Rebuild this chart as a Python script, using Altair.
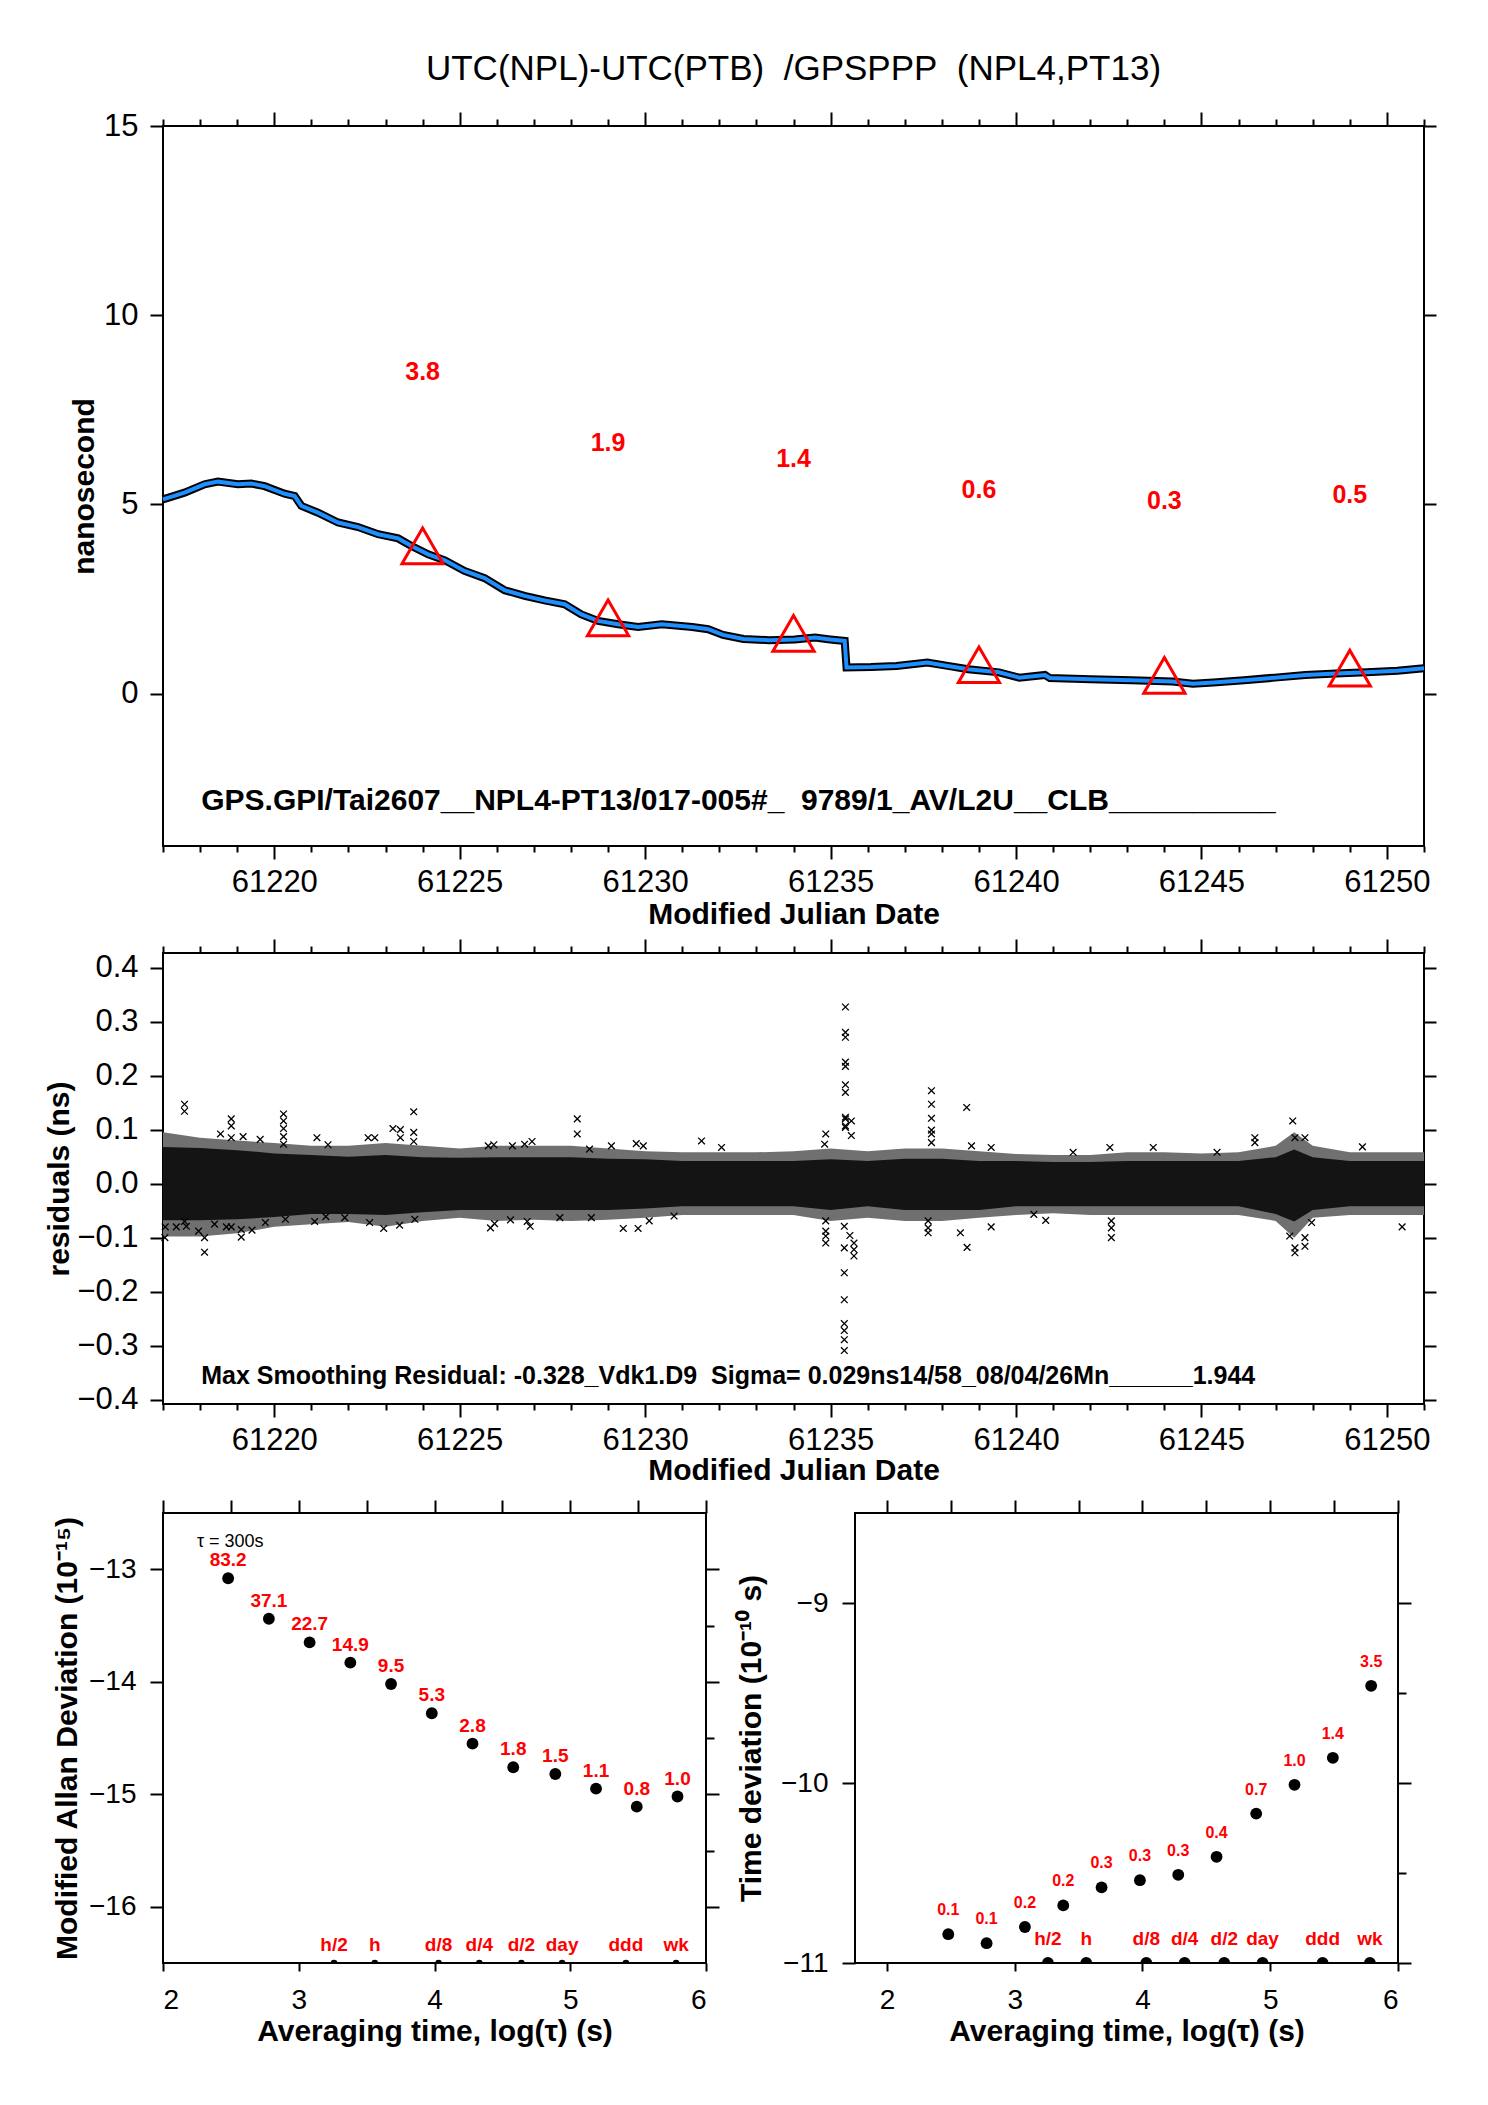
import altair as alt
import pandas as pd

FONT = "Liberation Sans"
NB = "\u00a0"
RED = "#ff0000"
BLUE = "#1e8fff"

# ---------------- top panel data ----------------
curve_mjd = [61217.0, 61217.58, 61218.12, 61218.48, 61219.02, 61219.38, 61219.74, 61220.28,
             61220.55, 61220.73, 61221.18, 61221.72, 61222.26, 61222.8, 61223.34, 61223.7,
             61224.15, 61224.6, 61225.13, 61225.67, 61226.21, 61226.75, 61227.29, 61227.83,
             61228.28, 61228.73, 61229.27, 61229.81, 61230.45, 61231.27, 61231.7, 61232.1,
             61232.65, 61233.34, 61234.03, 61234.58, 61234.99, 61235.38, 61235.43, 61236.09,
             61236.78, 61237.61, 61238.16, 61238.71, 61239.54, 61240.09, 61240.78, 61240.91,
             61242.01, 61243.12, 61244.22, 61244.77, 61245.32, 61246.15, 61246.98, 61247.8,
             61248.63, 61249.45, 61250.28, 61251.0]
curve_ns = [5.13, 5.31, 5.53, 5.6, 5.53, 5.55, 5.48, 5.28,
            5.22, 4.96, 4.78, 4.52, 4.4, 4.21, 4.1, 3.9,
            3.68, 3.52, 3.24, 3.05, 2.73, 2.58, 2.46, 2.36,
            2.09, 1.92, 1.83, 1.76, 1.83, 1.76, 1.70, 1.55,
            1.44, 1.41, 1.43, 1.48, 1.43, 1.39, 0.69, 0.70,
            0.73, 0.82, 0.73, 0.64, 0.56, 0.42, 0.49, 0.41,
            0.38, 0.35, 0.32, 0.26, 0.29, 0.35, 0.42, 0.49,
            0.53, 0.56, 0.60, 0.67]

tri_mjd = [61224, 61229, 61234, 61239, 61244, 61249]
tri_ns = [3.9, 2.0, 1.59, 0.76, 0.48, 0.67]
tri_text = ["3.8", "1.9", "1.4", "0.6", "0.3", "0.5"]
tri_text_y = [8.51, 6.62, 6.19, 5.38, 5.08, 5.26]

gps_note = ("GPS.GPI/Tai2607__NPL4-PT13/017-005#_" + NB + NB +
            "9789/1_AV/L2U__CLB__________")
gps_note_pos = [61218.03, -2.84]

# ---------------- residual panel data ----------------
band_mjd = [61217, 61218, 61219, 61220, 61221, 61222, 61223, 61224, 61225, 61226, 61227,
            61228, 61229, 61230, 61231, 61232, 61233, 61234, 61235, 61236, 61237, 61238,
            61239, 61240, 61241, 61242, 61243, 61244, 61245, 61246, 61247, 61247.5, 61248,
            61249, 61250, 61251]
band_hi = [0.095, 0.085, 0.08, 0.075, 0.07, 0.07, 0.075, 0.07, 0.065, 0.07, 0.07,
           0.07, 0.065, 0.06, 0.058, 0.058, 0.058, 0.06, 0.065, 0.06, 0.065, 0.065,
           0.06, 0.055, 0.053, 0.053, 0.058, 0.058, 0.056, 0.058, 0.07, 0.095, 0.07,
           0.058, 0.058, 0.058]
band_core_hi = [0.068, 0.066, 0.062, 0.056, 0.053, 0.05, 0.053, 0.049, 0.048, 0.049, 0.049,
                0.049, 0.046, 0.045, 0.042, 0.042, 0.042, 0.042, 0.045, 0.042, 0.046, 0.046,
                0.042, 0.042, 0.04, 0.04, 0.042, 0.042, 0.042, 0.042, 0.049, 0.063, 0.049,
                0.042, 0.042, 0.042]
band_core_lo = [-0.068, -0.068, -0.066, -0.062, -0.056, -0.056, -0.058, -0.053, -0.049, -0.049, -0.049,
                -0.049, -0.049, -0.046, -0.042, -0.042, -0.042, -0.042, -0.049, -0.042, -0.049, -0.049,
                -0.049, -0.042, -0.042, -0.042, -0.042, -0.042, -0.042, -0.042, -0.056, -0.07, -0.049,
                -0.042, -0.042, -0.042]
band_lo = [-0.098, -0.098, -0.092, -0.08, -0.075, -0.071, -0.08, -0.069, -0.063, -0.069, -0.067,
           -0.069, -0.067, -0.063, -0.058, -0.058, -0.058, -0.058, -0.069, -0.063, -0.069, -0.069,
           -0.063, -0.058, -0.055, -0.058, -0.058, -0.058, -0.058, -0.058, -0.069, -0.1, -0.063,
           -0.058, -0.058, -0.058]

out_mjd = [61217.58, 61217.58, 61218.84, 61218.84, 61218.84, 61218.55, 61219.16,
           61220.25, 61220.25, 61220.25, 61220.25, 61220.25, 61219.62, 61221.15, 61221.45,
           61222.53, 61222.71, 61223.2, 61223.4, 61223.4, 61223.76, 61223.76, 61223.76,
           61228.17, 61228.17, 61225.77, 61225.92, 61226.42, 61226.75, 61226.95, 61228.5,
           61218.12, 61218.12, 61217.06, 61217.36, 61217.58, 61217.63, 61217.96, 61218.39,
           61218.71, 61218.84, 61219.11, 61219.11, 61219.4, 61219.76, 61220.3, 61221.09,
           61221.39, 61221.9, 61222.57, 61222.95, 61223.38, 61223.79, 61225.83, 61225.94,
           61226.37, 61226.82, 61226.9, 61227.7, 61228.55, 61217.05,
           61235.4, 61235.4, 61235.4, 61235.4, 61235.4, 61235.4, 61235.4, 61235.4, 61235.4,
           61235.4, 61235.4, 61235.56, 61235.56,
           61235.37, 61235.37, 61235.37, 61235.37, 61235.37, 61235.37, 61235.37,
           61235.63, 61235.63, 61235.63, 61235.52, 61235.37,
           61234.87, 61234.84, 61234.87, 61234.87, 61234.87, 61234.87,
           61237.72, 61237.72, 61237.72, 61237.72, 61237.72, 61237.72, 61237.63, 61237.63, 61237.63,
           61238.67, 61238.68, 61238.5, 61239.33,
           61231.52, 61229.41, 61229.81, 61230.11, 61230.78, 61232.06, 61229.09, 61229.76,
           61229.95, 61238.8, 61239.33,
           61247.46, 61247.52, 61247.79, 61247.38, 61247.52, 61247.52, 61247.79, 61247.79,
           61247.97, 61246.44, 61246.44, 61242.57, 61242.57, 61242.57, 61243.7, 61245.42,
           61249.34, 61250.41, 61240.48, 61240.8, 61241.54, 61242.53]
out_ns = [0.147, 0.134, 0.12, 0.107, 0.085, 0.092, 0.087,
          0.129, 0.116, 0.102, 0.087, 0.073, 0.082, 0.085, 0.072,
          0.085, 0.085, 0.102, 0.1, 0.085, 0.133, 0.095, 0.078,
          0.12, 0.092, 0.07, 0.072, 0.07, 0.073, 0.078, 0.064,
          -0.1, -0.127, -0.08, -0.08, -0.07, -0.079, -0.088, -0.075,
          -0.08, -0.08, -0.085, -0.099, -0.086, -0.072, -0.066, -0.07,
          -0.061, -0.063, -0.072, -0.083, -0.077, -0.066, -0.082, -0.074,
          -0.067, -0.07, -0.079, -0.063, -0.063, -0.1,
          0.327, 0.28, 0.271, 0.225, 0.217, 0.183, 0.169, 0.123, 0.12,
          0.107, 0.104, 0.116, 0.089,
          -0.119, -0.165, -0.215, -0.259, -0.272, -0.289, -0.309,
          -0.11, -0.122, -0.134, -0.096, -0.079,
          0.092, 0.073, -0.069, -0.088, -0.097, -0.11,
          0.172, 0.147, 0.121, 0.099, 0.092, 0.076, -0.069, -0.082, -0.091,
          0.141, -0.118, -0.091, -0.08,
          0.079, -0.083, -0.083, -0.069, -0.06, 0.067, 0.07, 0.074,
          0.07, 0.07, 0.067,
          0.116, 0.085, 0.085, -0.097, -0.119, -0.128, -0.1, -0.116,
          -0.072, 0.085, 0.076, -0.069, -0.082, -0.1, 0.067, 0.058,
          0.068, -0.08, -0.057, -0.068, 0.058, 0.067]

res_note = ("Max Smoothing Residual: -0.328_Vdk1.D9" + NB + NB +
            "Sigma= 0.029ns14/58_08/04/26Mn______1.944")
res_note_pos = [61218.03, -0.356]

# ---------------- stability panels data ----------------
logtau = [2.48, 2.78, 3.08, 3.38, 3.68, 3.98, 4.28, 4.58, 4.89, 5.19, 5.49, 5.79]
mdev_log = [-13.08, -13.44, -13.65, -13.83, -14.02, -14.28, -14.55, -14.76, -14.82, -14.95, -15.11, -15.02]
mdev_text = ["83.2", "37.1", "22.7", "14.9", "9.5", "5.3", "2.8", "1.8", "1.5", "1.1", "0.8", "1.0"]
tdev_log = [-10.84, -10.89, -10.80, -10.68, -10.58, -10.54, -10.51, -10.41, -10.17, -10.01, -9.86, -9.46]
tdev_text = ["0.1", "0.1", "0.2", "0.2", "0.3", "0.3", "0.3", "0.4", "0.7", "1.0", "1.4", "3.5"]
mark_logtau = [3.26, 3.56, 4.03, 4.33, 4.64, 4.94, 5.41, 5.78]
mark_text = ["h/2", "h", "d/8", "d/4", "d/2", "day", "ddd", "wk"]
mdev_mark_y = -16.5
mdev_mark_text_y = -16.34
tdev_mark_y = -11.0
tdev_mark_text_y = -10.867
tau0_text = "\u03c4 = 300s"
tau0_pos = [2.25, -12.76]


# ---------------- helpers ----------------
def cond_size(test, big, small):
    return {"condition": {"test": test, "value": big}, "value": small}


top_df = pd.DataFrame({"mjd": curve_mjd, "ns": curve_ns})
tri_df = pd.DataFrame({"mjd": tri_mjd, "ns": tri_ns, "lbl": tri_text, "ly": tri_text_y})
gps_df = pd.DataFrame({"mjd": [gps_note_pos[0]], "ns": [gps_note_pos[1]], "t": [gps_note]})

XS = alt.Scale(domain=[61217, 61251], nice=False, zero=False)
YS_TOP = alt.Scale(domain=[-4.03, 15], nice=False, zero=False)
mjd_ticks = list(range(61217, 61252))
major5 = "datum.value % 5 === 0"


def x_bottom_mjd(title_y):
    return alt.Axis(orient="bottom", values=mjd_ticks, title="Modified Julian Date",
                    labelExpr=f"{major5} ? datum.label : ''", format="d",
                    tickSize=cond_size(major5, 13, 6), labelPadding=8,
                    labelFontSize=31, titleFontSize=30, titleFontWeight="bold",
                    titleY=title_y, titleBaseline="middle")


x_top_mjd = alt.Axis(orient="top", values=mjd_ticks, labels=False, title=None,
                     tickSize=cond_size(major5, 14, 7))

top_black = alt.Chart(top_df).mark_line(color="black", strokeWidth=8).encode(
    x=alt.X("mjd:Q", scale=XS, axis=x_bottom_mjd(68)),
    y=alt.Y("ns:Q", scale=YS_TOP,
            axis=alt.Axis(orient="left", values=[0, 5, 10, 15], tickSize=13, labelPadding=12,
                          labelFontSize=31, title="nanosecond", titleFontSize=30,
                          titleFontWeight="bold", titleX=-79, titleBaseline="middle")))
top_blue = alt.Chart(top_df).mark_line(color=BLUE, strokeWidth=4).encode(
    x=alt.X("mjd:Q", scale=XS, axis=None), y=alt.Y("ns:Q", scale=YS_TOP, axis=None))
top_tri = alt.Chart(tri_df).mark_point(shape="triangle-up", size=1700, color=RED,
                                       strokeWidth=3, filled=False, opacity=1).encode(
    x=alt.X("mjd:Q", scale=XS, axis=None), y=alt.Y("ns:Q", scale=YS_TOP, axis=None))
top_lbl = alt.Chart(tri_df).mark_text(color=RED, font=FONT, fontSize=25, fontWeight="bold").encode(
    x=alt.X("mjd:Q", scale=XS, axis=None), y=alt.Y("ly:Q", scale=YS_TOP, axis=None), text="lbl:N")
top_note = alt.Chart(gps_df).mark_text(color="black", font=FONT, fontSize=30, fontWeight="bold",
                                       align="left").encode(
    x=alt.X("mjd:Q", scale=XS, axis=None), y=alt.Y("ns:Q", scale=YS_TOP, axis=None), text="t:N")
top_frame = alt.Chart(top_df).mark_point(opacity=0).encode(
    x=alt.X("mjd:Q", scale=XS, axis=x_top_mjd),
    y=alt.Y("ns:Q", scale=YS_TOP, axis=alt.Axis(orient="right", values=[0, 5, 10, 15],
                                                labels=False, tickSize=12, title=None)))

top = alt.layer(top_black, top_blue, top_tri, top_lbl, top_note, top_frame).resolve_axis(
    x="independent", y="independent").properties(
    width=1261, height=720,
    title=alt.TitleParams("UTC(NPL)-UTC(PTB)" + NB + NB + "/GPSPPP" + NB + NB + "(NPL4,PT13)",
                          font=FONT, fontSize=35, fontWeight="normal", anchor="middle",
                          frame="group", offset=23, color="black"))

# ---------------- residual panel ----------------
band_df = pd.DataFrame({"mjd": band_mjd, "hi": band_hi, "chi": band_core_hi,
                        "clo": band_core_lo, "lo": band_lo})
out_df = pd.DataFrame({"mjd": out_mjd, "ns": out_ns})
res_df = pd.DataFrame({"mjd": [res_note_pos[0]], "ns": [res_note_pos[1]], "t": [res_note]})
YS_RES = alt.Scale(domain=[-0.408, 0.427], nice=False, zero=False)
res_ticks = [-0.4, -0.3, -0.2, -0.1, 0.0, 0.1, 0.2, 0.3, 0.4]

mid_fringe = alt.Chart(band_df).mark_area(color="#707070", opacity=1).encode(
    x=alt.X("mjd:Q", scale=XS, axis=x_bottom_mjd(66)),
    y=alt.Y("hi:Q", scale=YS_RES, axis=alt.Axis(
        orient="left", values=res_ticks, format=".1f", tickSize=13, labelPadding=12,
        labelFontSize=31, title="residuals (ns)", titleFontSize=30, titleFontWeight="bold",
        titleX=-104, titleBaseline="middle")),
    y2="lo:Q")
mid_core = alt.Chart(band_df).mark_area(color="#141414", opacity=1).encode(
    x=alt.X("mjd:Q", scale=XS, axis=None),
    y=alt.Y("chi:Q", scale=YS_RES, axis=None), y2="clo:Q")
mid_out = alt.Chart(out_df).mark_point(shape="M-1,-1L1,1M1,-1L-1,1", size=45, color="black",
                                       filled=False, strokeWidth=1.3, opacity=1).encode(
    x=alt.X("mjd:Q", scale=XS, axis=None), y=alt.Y("ns:Q", scale=YS_RES, axis=None))
mid_note = alt.Chart(res_df).mark_text(color="black", font=FONT, fontSize=25, fontWeight="bold",
                                       align="left").encode(
    x=alt.X("mjd:Q", scale=XS, axis=None), y=alt.Y("ns:Q", scale=YS_RES, axis=None), text="t:N")
mid_frame = alt.Chart(out_df).mark_point(opacity=0).encode(
    x=alt.X("mjd:Q", scale=XS, axis=x_top_mjd),
    y=alt.Y("ns:Q", scale=YS_RES, axis=alt.Axis(orient="right", values=res_ticks,
                                                labels=False, tickSize=12, title=None)))
mid = alt.layer(mid_fringe, mid_core, mid_out, mid_note, mid_frame).resolve_axis(
    x="independent", y="independent").properties(width=1261, height=451)


# ---------------- stability panels ----------------
def stability_panel(xdomain, ydomain, yvals, ytitle, title_x, dev, labels, label_dy, label_size,
                    mark_y, mark_text_y, mark_size, extra=None):
    xs = alt.Scale(domain=xdomain, nice=False, zero=False)
    ys = alt.Scale(domain=ydomain, nice=False, zero=False)
    xvals = [2.0, 2.5, 3.0, 3.5, 4.0, 4.5, 5.0, 5.5, 6.0]
    isint = "datum.value % 1 === 0"
    df = pd.DataFrame({"lt": logtau, "v": dev, "lbl": labels})
    mdf = pd.DataFrame({"lt": mark_logtau, "y": [mark_y] * len(mark_logtau),
                        "ty": [mark_text_y] * len(mark_logtau), "lbl": mark_text})
    pts = alt.Chart(df).mark_circle(size=140, color="black", opacity=1).encode(
        x=alt.X("lt:Q", scale=xs, axis=alt.Axis(
            orient="bottom", values=xvals, labelExpr=f"{isint} ? datum.label : ''", format="d",
            tickSize=8, labelPadding=15, labelFontSize=28,
            title="Averaging time, log(\u03c4) (s)", titleFontSize=30, titleFontWeight="bold",
            titleY=68, titleBaseline="middle")),
        y=alt.Y("v:Q", scale=ys, axis=alt.Axis(
            orient="left", values=yvals, labelExpr=f"{isint} ? datum.label : ''", format="d",
            tickSize=cond_size(isint, 13, 8), labelPadding=14, labelFontSize=28,
            title=ytitle, titleFontSize=30, titleFontWeight="bold", titleX=title_x,
            titleBaseline="middle")))
    lbl = alt.Chart(df).mark_text(color=RED, font=FONT, fontSize=label_size, fontWeight="bold",
                                  dy=label_dy).encode(
        x=alt.X("lt:Q", scale=xs, axis=None), y=alt.Y("v:Q", scale=ys, axis=None), text="lbl:N")
    mdots = alt.Chart(mdf).mark_circle(size=mark_size, color="black", opacity=1, clip=True).encode(
        x=alt.X("lt:Q", scale=xs, axis=None), y=alt.Y("y:Q", scale=ys, axis=None))
    mlbl = alt.Chart(mdf).mark_text(color=RED, font=FONT, fontSize=19, fontWeight="bold").encode(
        x=alt.X("lt:Q", scale=xs, axis=None), y=alt.Y("ty:Q", scale=ys, axis=None), text="lbl:N")
    frame = alt.Chart(df).mark_point(opacity=0).encode(
        x=alt.X("lt:Q", scale=xs, axis=alt.Axis(orient="top", values=xvals, labels=False,
                                                tickSize=13, title=None)),
        y=alt.Y("v:Q", scale=ys, axis=alt.Axis(orient="right", values=yvals, labels=False,
                                               tickSize=cond_size(isint, 13, 8), title=None)))
    layers = [pts, lbl, mdots, mlbl]
    if extra is not None:
        layers.append(extra(xs, ys))
    layers.append(frame)
    return alt.layer(*layers).resolve_axis(x="independent", y="independent").properties(
        width=543, height=450)


def tau_note(xs, ys):
    tdf = pd.DataFrame({"lt": [tau0_pos[0]], "v": [tau0_pos[1]], "t": [tau0_text]})
    return alt.Chart(tdf).mark_text(color="black", font=FONT, fontSize=18, align="left").encode(
        x=alt.X("lt:Q", scale=xs, axis=None), y=alt.Y("v:Q", scale=ys, axis=None), text="t:N")


bl = stability_panel([2, 6], [-16.5, -12.5], [-16, -15.5, -15, -14.5, -14, -13.5, -13],
                     "Modified Allan Deviation (10\u207b\u00b9\u2075)", -96, mdev_log, mdev_text,
                     -18, 19, mdev_mark_y, mdev_mark_text_y, 45, extra=tau_note)
br = stability_panel([1.75, 6], [-11, -8.5], [-11, -10.5, -10, -9.5, -9],
                     "Time deviation (10\u207b\u00b9\u2070 s)", -104, tdev_log, tdev_text,
                     -24, 16, tdev_mark_y, tdev_mark_text_y, 140)

bottom = alt.hconcat(bl, br, spacing=13)
upper = alt.vconcat(top, mid, spacing=7)

chart = alt.vconcat(upper, bottom, spacing=12).configure(
    font=FONT, padding={"left": 35, "top": 43, "right": 5, "bottom": 5}
).configure_view(stroke="black", strokeWidth=2).configure_axis(
    labelFont=FONT, titleFont=FONT, labelColor="black", titleColor="black",
    tickColor="black", tickWidth=2, domain=False, grid=False
)

chart.save("out.html", embed_options={"renderer": "svg", "actions": False})
